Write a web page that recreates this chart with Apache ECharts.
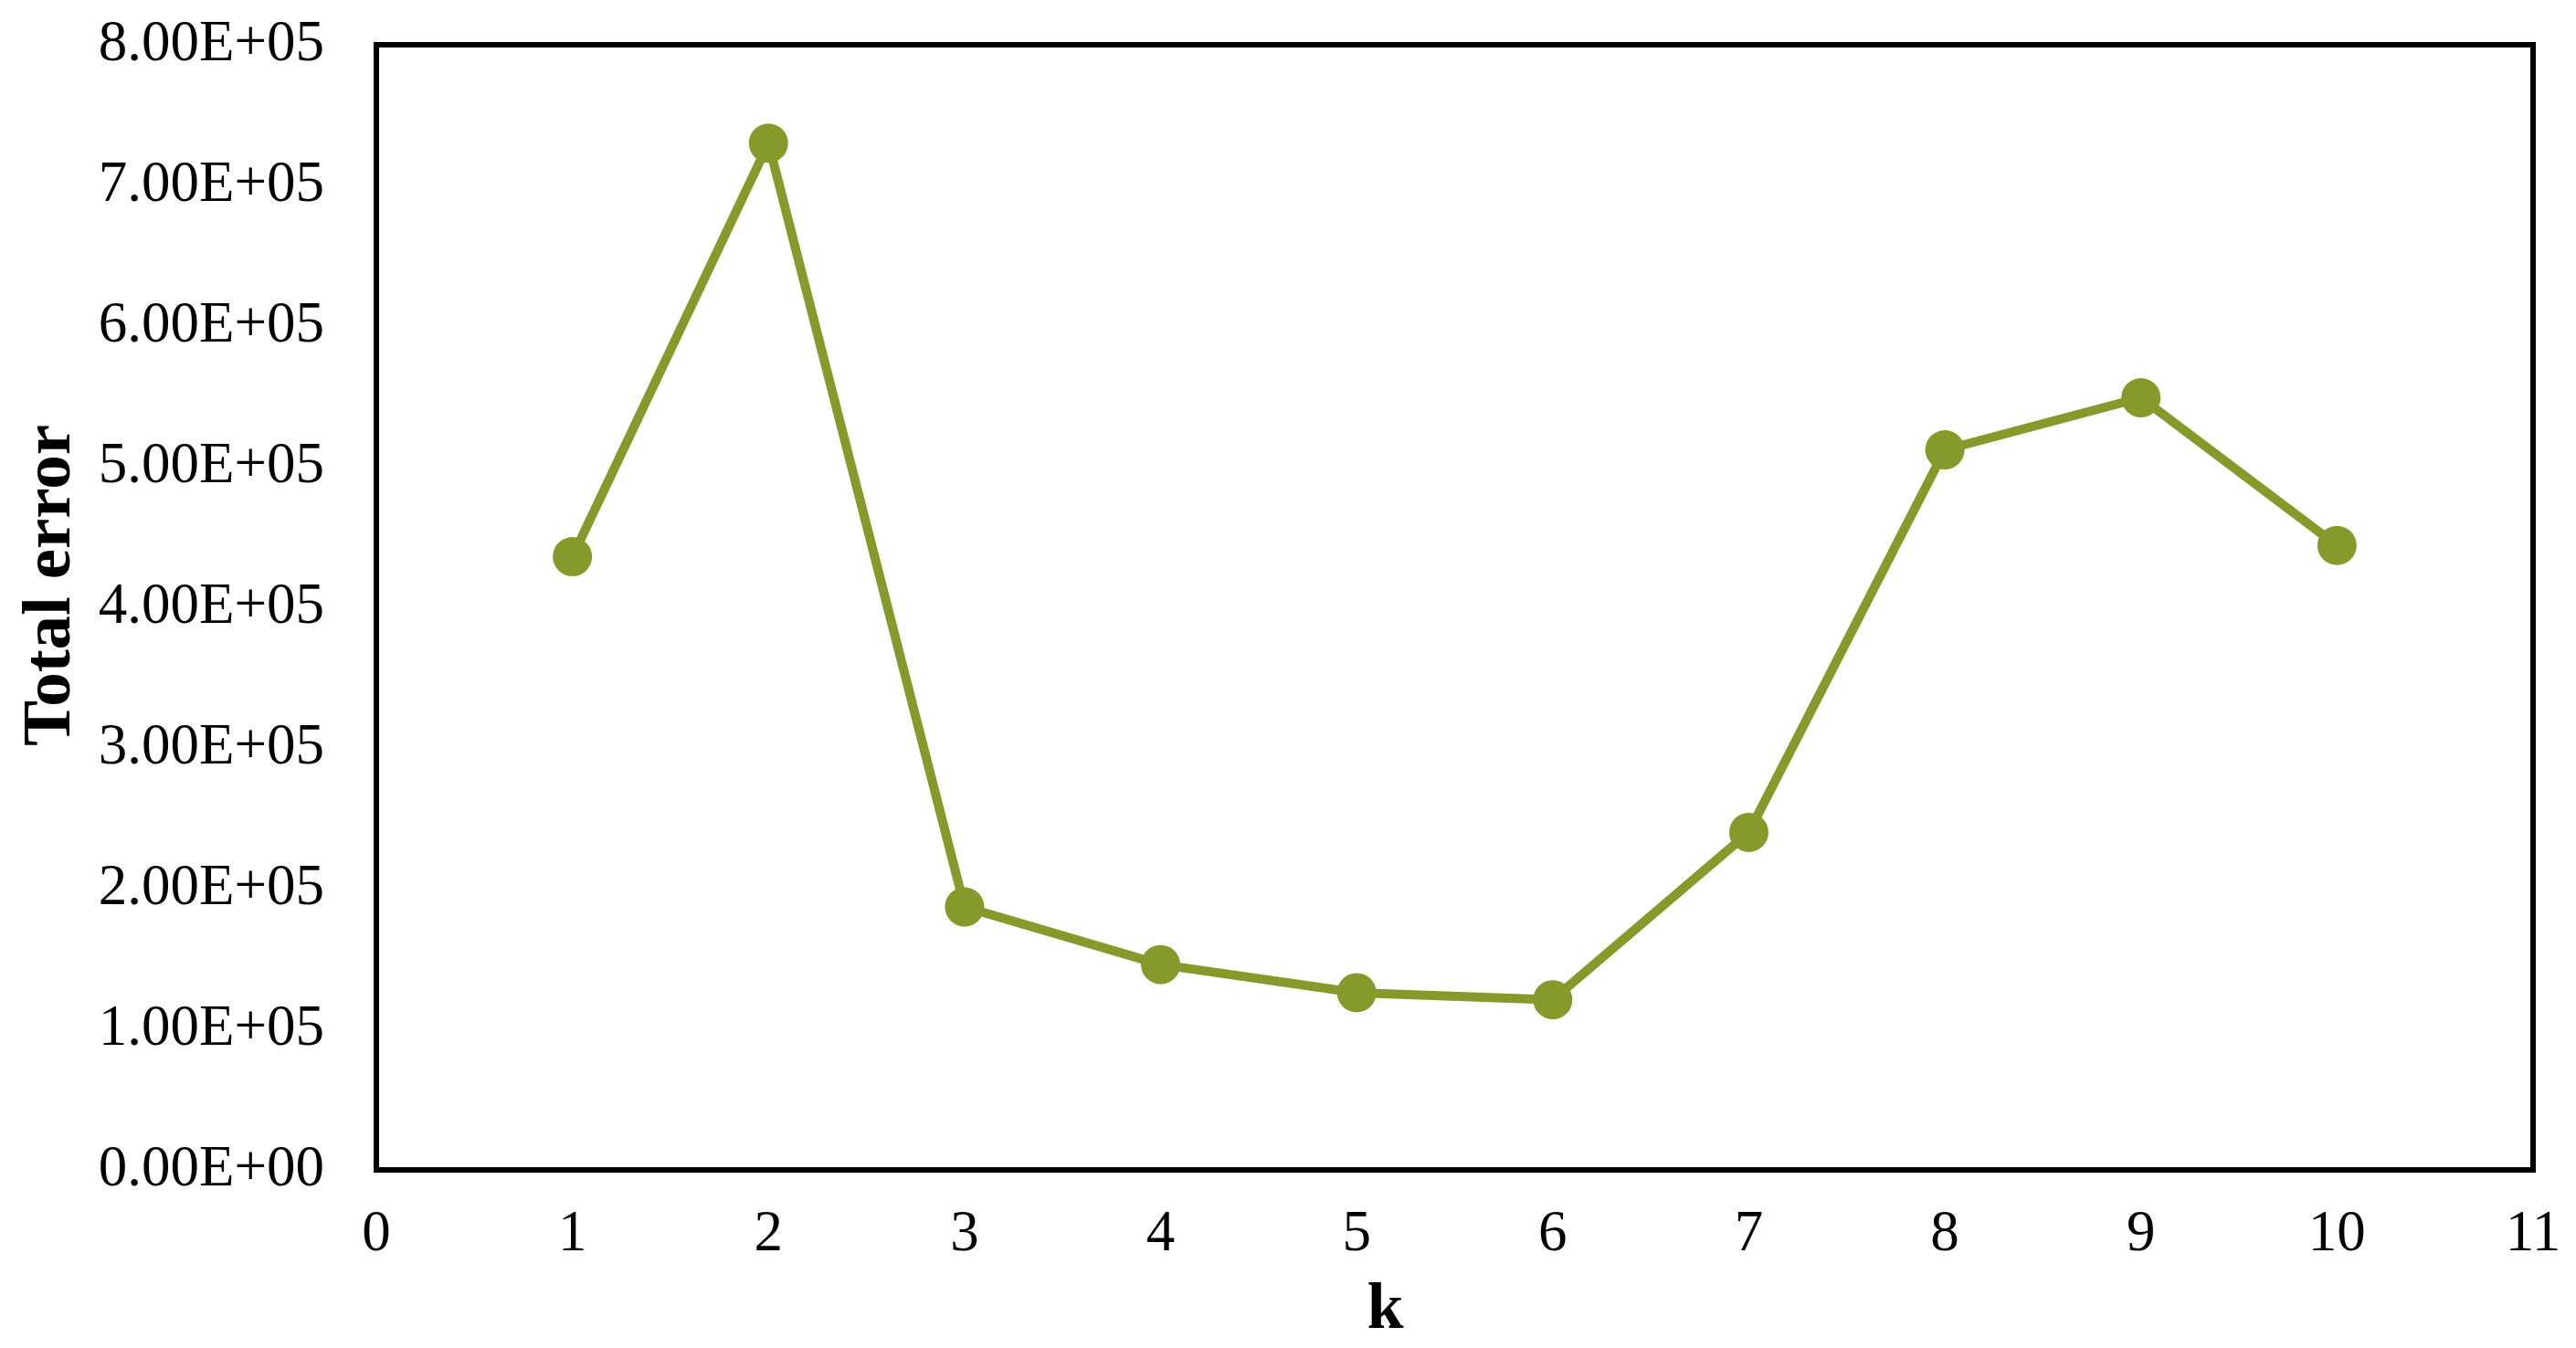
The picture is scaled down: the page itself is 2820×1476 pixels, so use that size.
<!DOCTYPE html>
<html>
<head>
<meta charset="utf-8">
<script src="https://cdn.jsdelivr.net/npm/echarts@6/dist/echarts.min.js"></script>
<style>
html, body { margin: 0; padding: 0; background: #fff; }
#main { width: 2820px; height: 1476px; }
</style>
</head>
<body>
<div id="main"></div>
<script>
// k values and total error
var kValues = [1, 2, 3, 4, 5, 6, 7, 8, 9, 10];
var totalError = [436000, 730000, 187000, 146000, 126000, 121000, 240000, 512000, 549000, 444000];

var xTicks = { min: 0, max: 11, step: 1 };
var yTicks = { min: 0, max: 800000, step: 100000 };

// Excel-style scientific label, e.g. 8.00E+05
function sci(v) {
	if (v === 0) return '0.00E+00';
	var e = Math.floor(Math.log10(Math.abs(v)));
	var m = v / Math.pow(10, e);
	var es = (e < 0 ? '-' : '+') + (Math.abs(e) < 10 ? '0' : '') + Math.abs(e);
	return m.toFixed(2) + 'E' + es;
}

var points = [];
for (var i = 0; i < kValues.length; i++) {
	points.push([kValues[i], totalError[i]]);
}

var font = '"Liberation Serif", "Times New Roman", serif';
var myChart = echarts.init(document.getElementById('main'));
var option = {
	backgroundColor: '#ffffff',
	animation: false,
	grid: {
		left: 412,
		right: 47,
		top: 49,
		bottom: 193,
		show: true,
		borderColor: '#000000',
		borderWidth: 6,
		backgroundColor: 'transparent'
	},
	xAxis: {
		type: 'value',
		min: xTicks.min,
		max: xTicks.max,
		interval: xTicks.step,
		name: 'k',
		nameLocation: 'middle',
		nameGap: 118,
		nameTextStyle: {
			fontFamily: font, fontSize: 72, fontWeight: 'bold', color: '#000',
			padding: [0, 152, 0, 0]
		},
		axisLine: { show: true, lineStyle: { color: '#000', width: 6 } },
		axisTick: { show: false },
		splitLine: { show: false },
		axisLabel: { fontFamily: font, fontSize: 63, color: '#000', margin: 40 }
	},
	yAxis: {
		type: 'value',
		min: yTicks.min,
		max: yTicks.max,
		interval: yTicks.step,
		name: 'Total error',
		nameLocation: 'middle',
		nameGap: 318,
		nameRotate: 90,
		nameTextStyle: {
			fontFamily: font, fontSize: 75, fontWeight: 'bold', color: '#000',
			padding: [0, 0, 0, 48]
		},
		axisLine: { show: true, lineStyle: { color: '#000', width: 6 } },
		axisTick: { show: false },
		splitLine: { show: false },
		axisLabel: {
			fontFamily: font, fontSize: 63, color: '#000', margin: 57,
			formatter: function(v) { return sci(v); }
		}
	},
	series: [{
		name: 'Total error',
		type: 'line',
		data: points,
		symbol: 'circle',
		symbolSize: 43,
		itemStyle: { color: '#86992B' },
		lineStyle: { color: '#86992B', width: 10 }
	}]
};
myChart.setOption(option);
</script>
</body>
</html>
